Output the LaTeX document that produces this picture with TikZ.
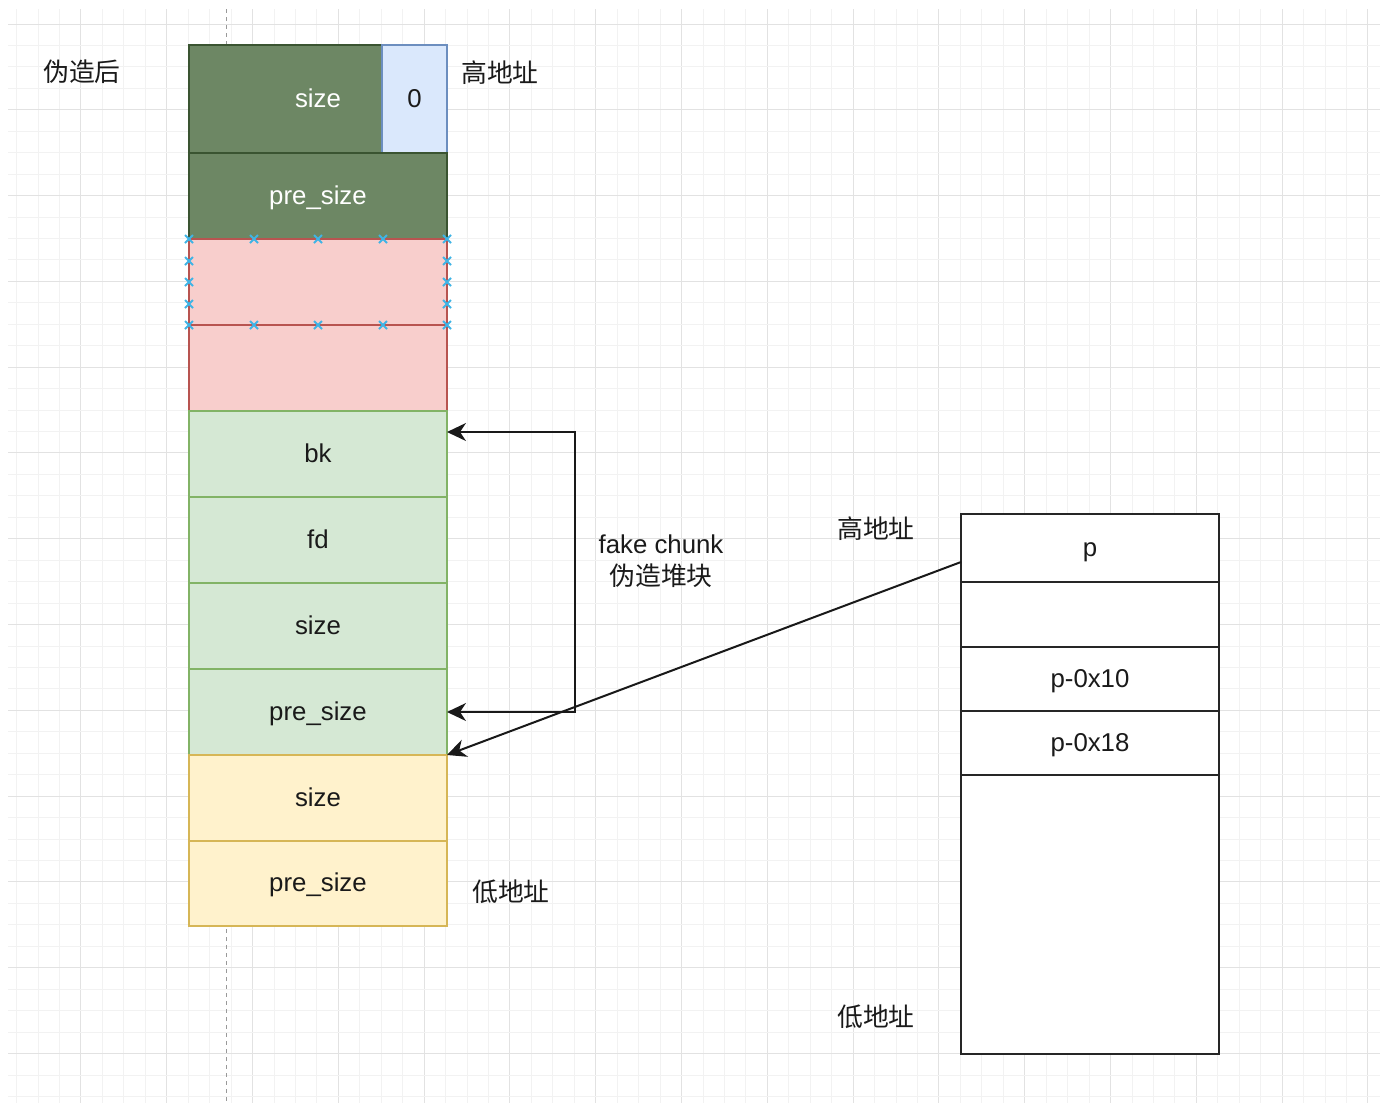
\documentclass[tikz,border=0pt]{standalone}
\usepackage{fontspec}
\setmainfont{Liberation Sans}
\newfontfamily\cjk{Noto Sans CJK SC}
\usetikzlibrary{arrows.meta,calc}
\definecolor{dgfill}{HTML}{6D8764}
\definecolor{dgline}{HTML}{3A5431}
\definecolor{pkfill}{HTML}{F8CECC}
\definecolor{pkline}{HTML}{B85450}
\definecolor{lgfill}{HTML}{D5E8D4}
\definecolor{lgline}{HTML}{82B366}
\definecolor{ylfill}{HTML}{FFF2CC}
\definecolor{ylline}{HTML}{D6B656}
\definecolor{blfill}{HTML}{DAE8FC}
\definecolor{blline}{HTML}{6C8EBF}
\definecolor{gridminor}{HTML}{F2F2F2}
\definecolor{gridmajor}{HTML}{E2E2E2}
\definecolor{handle}{HTML}{3FB4E6}
\definecolor{txt}{HTML}{1A1A1A}
\begin{document}
\begin{tikzpicture}[x=1pt,y=-1pt,
  font=\fontsize{25.8}{32}\selectfont,
  cell/.style={draw, line width=2pt, inner sep=0pt, outer sep=0pt, minimum width=258pt, text=txt, text height=19pt, text depth=3pt},
  dg/.style={cell, fill=dgfill, draw=dgline, text=white},
  pk/.style={cell, fill=pkfill, draw=pkline},
  lg/.style={cell, fill=lgfill, draw=lgline},
  yl/.style={cell, fill=ylfill, draw=ylline},
  wt/.style={cell, fill=white, draw=black!85},
  lbl/.style={inner sep=0pt, text=txt, align=center},
  link/.style={draw=black!90, line width=2pt, -{Stealth[length=19pt,width=18pt,inset=6pt]}},
  dlink/.style={draw=black!90, line width=2pt, {Stealth[length=19pt,width=18pt,inset=6pt]}-{Stealth[length=19pt,width=18pt,inset=6pt]}},
  hmark/.style={draw=handle, line width=2pt}
]
\useasboundingbox (0,0) rectangle (1395,1106);
\fill[white] (0,0) rectangle (1395,1106);
% grid
\begin{scope}
\clip (8,9) rectangle (1380,1103);
\foreach \i in {0,...,63} {
  \pgfmathsetmacro{\xx}{floor(16.65+21.45*\i)+0.5}
  \pgfmathtruncatemacro{\mm}{mod(\i+1,4)}
  \ifnum\mm=0 \def\gc{gridmajor}\else\def\gc{gridminor}\fi
  \draw[color=\gc, line width=1pt] (\xx,9) -- (\xx,1103);
}
\foreach \j in {0,...,50} {
  \pgfmathsetmacro{\yy}{floor(24+21.45*\j)+0.5}
  \pgfmathtruncatemacro{\mm}{mod(\j,4)}
  \ifnum\mm=0 \def\gc{gridmajor}\else\def\gc{gridminor}\fi
  \draw[color=\gc, line width=1pt] (8,\yy) -- (1380,\yy);
}
\end{scope}
\draw[black!40, line width=1pt, dash pattern=on 4pt off 4pt] (226.5,9) -- (226.5,1103);

% left stack
\node[dg, minimum height=108pt] (s1) at (318,99) {size};
\node[cell, fill=blfill, draw=blline, minimum width=65pt, minimum height=108pt] (zero) at (414.5,99) {0};
\node[dg, minimum height=86pt] (ps1) at (318,196) {pre\_size};
\node[pk, minimum height=86pt] (pk1) at (318,282) {};
\node[pk, minimum height=86pt] (pk2) at (318,368) {};
\node[lg, minimum height=86pt] (bk) at (318,454) {bk};
\node[lg, minimum height=86pt] (fd) at (318,540) {fd};
\node[lg, minimum height=86pt] (sz2) at (318,626) {size};
\node[lg, minimum height=86pt] (ps2) at (318,712) {pre\_size};
\node[yl, minimum height=86pt] (sz3) at (318,798) {size};
\node[yl, minimum height=85pt] (ps3) at (318,883.5) {pre\_size};

% selection handles on pk1
\foreach \hx/\hy in {189/239,254/239,318/239,383/239,447/239,
                     189/325,254/325,318/325,383/325,447/325,
                     189/261,189/282,189/304,447/261,447/282,447/304} {
  \draw[hmark] (\hx-4,\hy-4) -- (\hx+4,\hy+4) (\hx-4,\hy+4) -- (\hx+4,\hy-4);
}

% right stack
\node[wt, minimum height=68pt] (p) at (1090,548) {p};
\node[wt, minimum height=65pt] (pe) at (1090,614.5) {};
\node[wt, minimum height=64pt] (p10) at (1090,679) {p-0x10};
\node[wt, minimum height=64pt] (p18) at (1090,743) {p-0x18};
\node[wt, minimum height=279pt] (big) at (1090,914.5) {};

% labels
\node[lbl] (after) at (82,72) {\cjk 伪造后};
\node[lbl] (hi1) at (500,73) {\cjk 高地址};
\node[lbl] (lo1) at (511,892) {\cjk 低地址};
\node[lbl] (fake) at (661,561) {fake chunk\\{\cjk 伪造堆块}};
\node[lbl] (hi2) at (876,529) {\cjk 高地址};
\node[lbl] (lo2) at (876,1017) {\cjk 低地址};

% connectors
\draw[dlink] ([yshift=-21pt]bk.north east) -- ++(128,0) |- (ps2.east);
\draw[link] ([yshift=-14pt]p.west) -- (ps2.south east);
\end{tikzpicture}
\end{document}
